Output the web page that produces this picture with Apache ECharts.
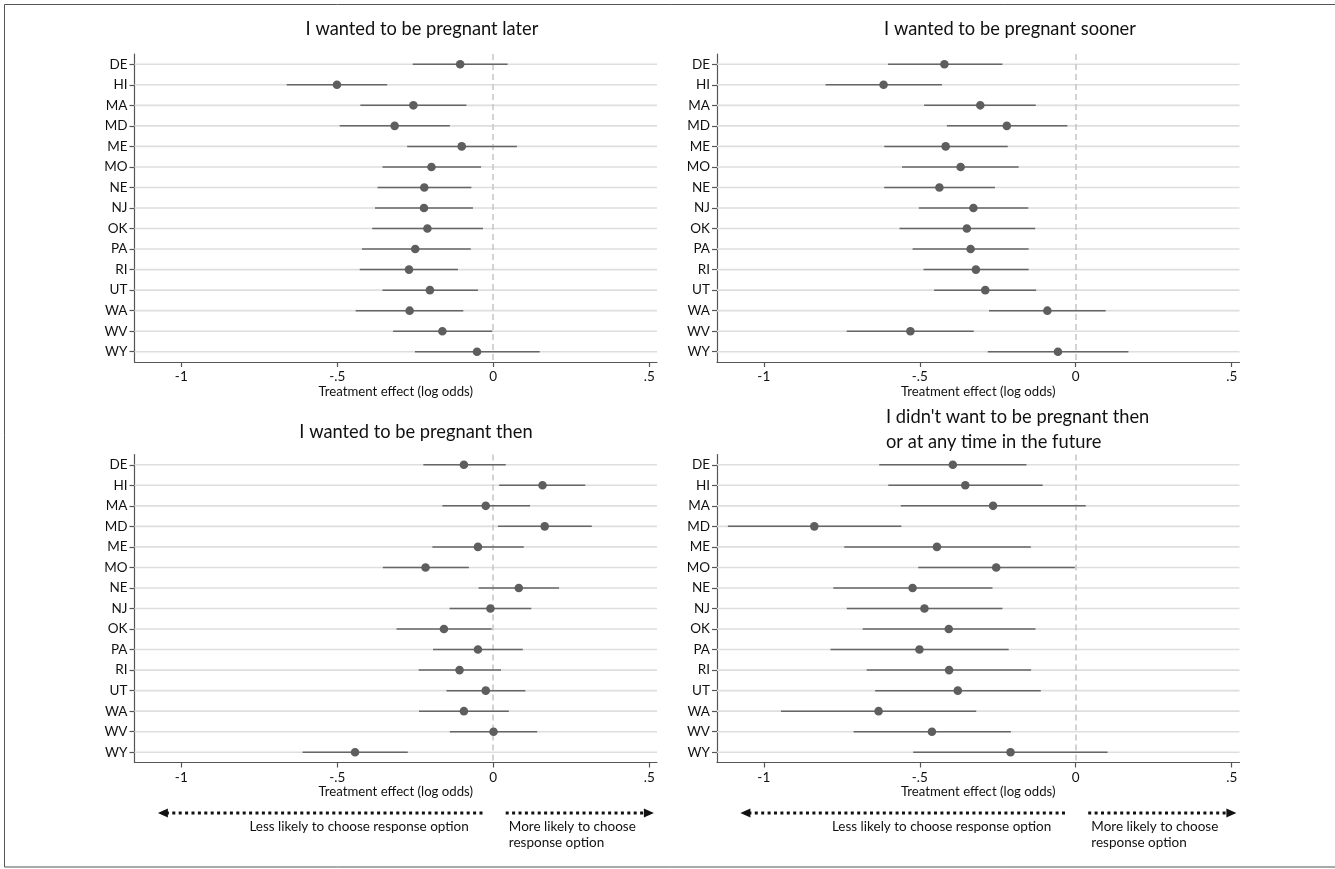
<!DOCTYPE html>
<html><head><meta charset="utf-8">
<script src="https://cdn.jsdelivr.net/npm/echarts@6/dist/echarts.min.js"></script>
<style>html,body{margin:0;padding:0;background:#fff}#c{width:1335px;height:869px}</style>
</head><body><div id="c"></div>
<script>
const states = ['DE','HI','MA','MD','ME','MO','NE','NJ','OK','PA','RI','UT','WA','WV','WY'];

const laterEst = [-0.106,-0.501,-0.256,-0.316,-0.101,-0.198,-0.221,-0.222,-0.211,-0.250,-0.270,-0.203,-0.268,-0.163,-0.052];
const laterLo  = [-0.258,-0.662,-0.426,-0.492,-0.276,-0.355,-0.371,-0.379,-0.388,-0.421,-0.428,-0.355,-0.441,-0.321,-0.251];
const laterHi  = [ 0.046,-0.340,-0.086,-0.139, 0.076,-0.039,-0.070,-0.065,-0.033,-0.072,-0.113,-0.049,-0.096,-0.003, 0.149];

const soonerEst = [-0.421,-0.616,-0.306,-0.221,-0.417,-0.369,-0.437,-0.328,-0.349,-0.337,-0.320,-0.290,-0.091,-0.530,-0.057];
const soonerLo  = [-0.602,-0.802,-0.486,-0.413,-0.614,-0.557,-0.614,-0.503,-0.565,-0.523,-0.488,-0.454,-0.278,-0.734,-0.282];
const soonerHi  = [-0.235,-0.429,-0.128,-0.027,-0.218,-0.183,-0.259,-0.152,-0.130,-0.151,-0.151,-0.127, 0.096,-0.327, 0.169];

const thenEst = [-0.094, 0.158,-0.024, 0.165,-0.049,-0.217, 0.082,-0.009,-0.158,-0.049,-0.108,-0.024,-0.094, 0.001,-0.443];
const thenLo  = [-0.224, 0.019,-0.163, 0.015,-0.195,-0.354,-0.047,-0.140,-0.310,-0.193,-0.239,-0.150,-0.238,-0.139,-0.611];
const thenHi  = [ 0.040, 0.295, 0.118, 0.316, 0.098,-0.078, 0.211, 0.122,-0.005, 0.095, 0.025, 0.103, 0.050, 0.141,-0.274];

const neverEst = [-0.394,-0.354,-0.265,-0.838,-0.445,-0.255,-0.523,-0.485,-0.407,-0.501,-0.406,-0.378,-0.632,-0.461,-0.209];
const neverLo  = [-0.630,-0.601,-0.561,-1.115,-0.742,-0.505,-0.777,-0.734,-0.683,-0.786,-0.670,-0.643,-0.945,-0.712,-0.521];
const neverHi  = [-0.158,-0.106, 0.032,-0.559,-0.144,-0.003,-0.267,-0.235,-0.129,-0.215,-0.143,-0.112,-0.319,-0.208, 0.102];

const xTicks = [-1, -0.5, 0, 0.5];
const xTickLabels = ['-1', '-.5', '0', '.5'];
const xAxisName = 'Treatment effect (log odds)';
const titleLater = 'I wanted to be pregnant later';
const titleSooner = 'I wanted to be pregnant sooner';
const titleThen = 'I wanted to be pregnant then';
const titleNever1 = "I didn't want to be pregnant then";
const titleNever2 = 'or at any time in the future';
const lessText = 'Less likely to choose response option';
const moreText1 = 'More likely to choose';
const moreText2 = 'response option';

const FONT = 'Lato';
const panels = [
  {est: laterEst, lo: laterLo, hi: laterHi},
  {est: soonerEst, lo: soonerLo, hi: soonerHi},
  {est: thenEst, lo: thenLo, hi: thenHi},
  {est: neverEst, lo: neverLo, hi: neverHi}
];
const gridPos = [
  {left: 134.5, top: 54, width: 522.5, height: 308},
  {left: 717, top: 54, width: 522.5, height: 308},
  {left: 134.5, top: 454.5, width: 522.5, height: 308},
  {left: 717, top: 454.5, width: 522.5, height: 308}
];

const grids = [], xAxes = [], yAxes = [], series = [];
panels.forEach((p, i) => {
  grids.push(Object.assign({containLabel: false}, gridPos[i]));
  xAxes.push({
    type: 'value', gridIndex: i, min: -1.15, max: 0.525,
    axisLine: {show: true, onZero: false, lineStyle: {color: '#555', width: 1.2}},
    axisTick: {show: true, customValues: xTicks, length: 5, lineStyle: {color: '#555', width: 1.2}},
    axisLabel: {customValues: xTicks, margin: 8, fontSize: 13.5, color: '#111', fontFamily: FONT,
      formatter: v => { const k = xTicks.findIndex(t => Math.abs(t - v) < 1e-9); return k >= 0 ? xTickLabels[k] : ''; }},
    splitLine: {show: false},
    name: xAxisName, nameLocation: 'middle', nameGap: 23,
    nameTextStyle: {fontSize: 13.2, color: '#111', fontFamily: FONT}
  });
  yAxes.push({
    type: 'category', gridIndex: i, data: states, inverse: true,
    axisLine: {show: true, onZero: false, lineStyle: {color: '#555', width: 1.2}},
    axisTick: {show: true, alignWithLabel: true, length: 5, lineStyle: {color: '#555', width: 1.2}},
    axisLabel: {margin: 7, fontSize: 13.5, color: '#111', fontFamily: FONT},
    splitLine: {show: false}
  });
  // horizontal reference lines at each state + dashed zero line
  series.push({
    type: 'custom', xAxisIndex: i, yAxisIndex: i, z: 1, silent: true,
    data: states.map((s, k) => [0, k]),
    encode: {x: 0, y: 1},
    renderItem: (params, api) => {
      const cs = params.coordSys;
      const y = api.coord([0, api.value(1)])[1];
      return {type: 'line', shape: {x1: cs.x, y1: y, x2: cs.x + cs.width, y2: y},
        style: {stroke: '#dedede', lineWidth: 1.6}};
    },
    markLine: {
      silent: true, z: 2, symbol: ['none', 'none'], animation: false,
      label: {show: false},
      lineStyle: {color: '#c9c9c9', width: 1.6, type: [6, 4]},
      data: [{xAxis: 0}]
    }
  });
  series.push({
    type: 'custom', xAxisIndex: i, yAxisIndex: i, z: 3, silent: true,
    data: states.map((s, k) => [p.est[k], k, p.lo[k], p.hi[k]]),
    encode: {x: [0, 2, 3], y: 1},
    renderItem: (params, api) => {
      const c = api.value(1);
      const pt = api.coord([api.value(0), c]);
      const a = api.coord([api.value(2), c]);
      const b = api.coord([api.value(3), c]);
      return {type: 'group', children: [
        {type: 'line', shape: {x1: a[0], y1: a[1], x2: b[0], y2: b[1]}, style: {stroke: '#666', lineWidth: 1.5}},
        {type: 'circle', shape: {cx: pt[0], cy: pt[1], r: 4.3}, style: {fill: '#5e5e5e'}}
      ]};
    }
  });
});

const chart = echarts.init(document.getElementById('c'), null, {renderer: 'canvas'});
chart.setOption({
  animation: false,
  backgroundColor: '#fff',
  grid: grids, xAxis: xAxes, yAxis: yAxes, series: series
});

function tx(text, x, y, size, align) {
  return {type: 'text', x: x, y: y, silent: true,
    style: {text: text, fontSize: size, fontFamily: FONT, fill: '#111', align: align || 'center', verticalAlign: 'middle'}};
}
const graphics = [
  {type: 'rect', silent: true, shape: {x: 4.5, y: 4.5, width: 1340, height: 862.5},
    style: {fill: 'none', stroke: '#555', lineWidth: 1}},
  tx(titleLater, 422, 29, 18.3),
  tx(titleSooner, 1010, 29, 18.3),
  tx(titleThen, 416, 432, 18.3),
  tx(titleNever1, 886, 417, 18.3, 'left'),
  tx(titleNever2, 886, 442, 18.3, 'left')
];
// direction arrows under the bottom panels
[2, 3].forEach(i => {
  const px = v => chart.convertToPixel({xAxisIndex: i}, v);
  const yA = gridPos[i].top + gridPos[i].height + 50.5;
  const l0 = px(-1.075), l1 = px(-0.025), r0 = px(0.04), r1 = px(0.515);
  const dot = {stroke: '#111', lineWidth: 3, lineDash: [3, 3.4], fill: 'none'};
  graphics.push({type: 'line', silent: true, shape: {x1: l0 + 8, y1: yA, x2: l1, y2: yA}, style: dot});
  graphics.push({type: 'polygon', silent: true, shape: {points: [[l0, yA], [l0 + 10, yA - 4.5], [l0 + 10, yA + 4.5]]}, style: {fill: '#111'}});
  graphics.push({type: 'line', silent: true, shape: {x1: r0, y1: yA, x2: r1 - 8, y2: yA}, style: dot});
  graphics.push({type: 'polygon', silent: true, shape: {points: [[r1, yA], [r1 - 10, yA - 4.5], [r1 - 10, yA + 4.5]]}, style: {fill: '#111'}});
  graphics.push(tx(lessText, px(-0.43), yA + 13.5, 13.5));
  graphics.push(tx(moreText1, px(0.05), yA + 13.5, 13.5, 'left'));
  graphics.push(tx(moreText2, px(0.05), yA + 29.5, 13.5, 'left'));
});
chart.setOption({graphic: graphics});
</script>
</body></html>
